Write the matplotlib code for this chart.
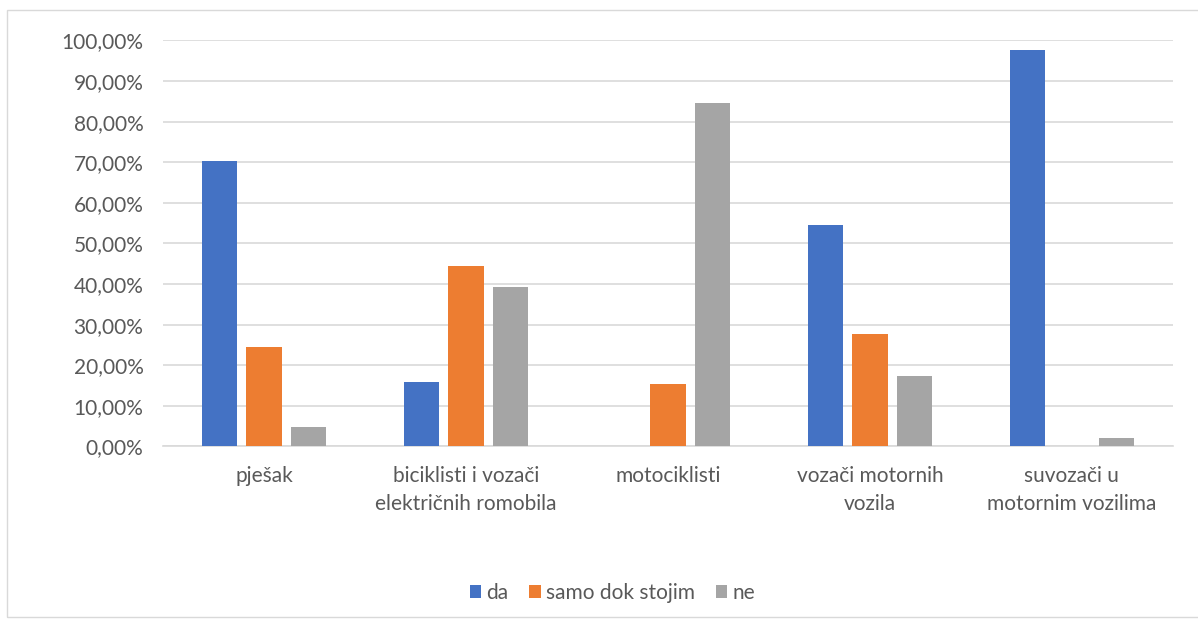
import numpy as np
import matplotlib.pyplot as plt
from matplotlib.patches import Rectangle

categories = ["pješak", "biciklisti i vozači\nelektričnih romobila", "motociklisti",
              "vozači motornih\nvozila", "suvozači u\nmotornim vozilima"]
series_names = ["da", "samo dok stojim", "ne"]
da = [70.2, 16.0, 0.0, 54.6, 97.7]
samo = [24.5, 44.5, 15.3, 27.8, 0.0]
ne = [4.75, 39.2, 84.6, 17.3, 2.2]
colors = ["#4472C4", "#ED7D31", "#A5A5A5"]

plt.rcParams['font.family'] = ['Lato', 'DejaVu Sans']
fig = plt.figure(figsize=(11.98, 6.19), dpi=100)
ax = fig.add_axes([0.136, 0.2787, 0.843, 0.656])

# light chart border
fig.patches.append(Rectangle((7/1198, 1-617/619), 1.2, (617-10)/619, transform=fig.transFigure,
                             fill=False, edgecolor="#d9d9d9", linewidth=1))

x = np.arange(len(categories))
width = 0.175
step = 0.22
for i, (vals, name) in enumerate(zip([da, samo, ne], series_names)):
    ax.bar(x + (i - 1) * step, vals, width, color=colors[i], label=name, zorder=3)

ax.set_xlim(-0.5, len(categories) - 0.5)
ax.set_ylim(0, 100)
ax.set_yticks(np.arange(0, 101, 10))
ax.set_yticklabels([("%.2f%%" % v).replace(".", ",") for v in np.arange(0, 101, 10)])
ax.set_xticks(x)
ax.set_xticklabels(categories, linespacing=1.5)
ax.tick_params(axis='both', length=0, colors="#595959", labelsize=15)
ax.tick_params(axis='y', pad=14)
ax.tick_params(axis='x', pad=14)
ax.yaxis.grid(True, color="#d9d9d9", linewidth=1.2, zorder=0)
for s in ["top", "right", "left"]:
    ax.spines[s].set_visible(False)
ax.spines["bottom"].set_color("#d9d9d9")
ax.spines["bottom"].set_linewidth(1.2)

leg = ax.legend(loc="center", bbox_to_anchor=(0.445, -0.36), ncol=3, frameon=False,
                fontsize=15, handlelength=0.55, handleheight=0.6, handletextpad=0.25,
                columnspacing=1.0)
for t in leg.get_texts():
    t.set_color("#595959")

fig.savefig("out.png", dpi=100)
